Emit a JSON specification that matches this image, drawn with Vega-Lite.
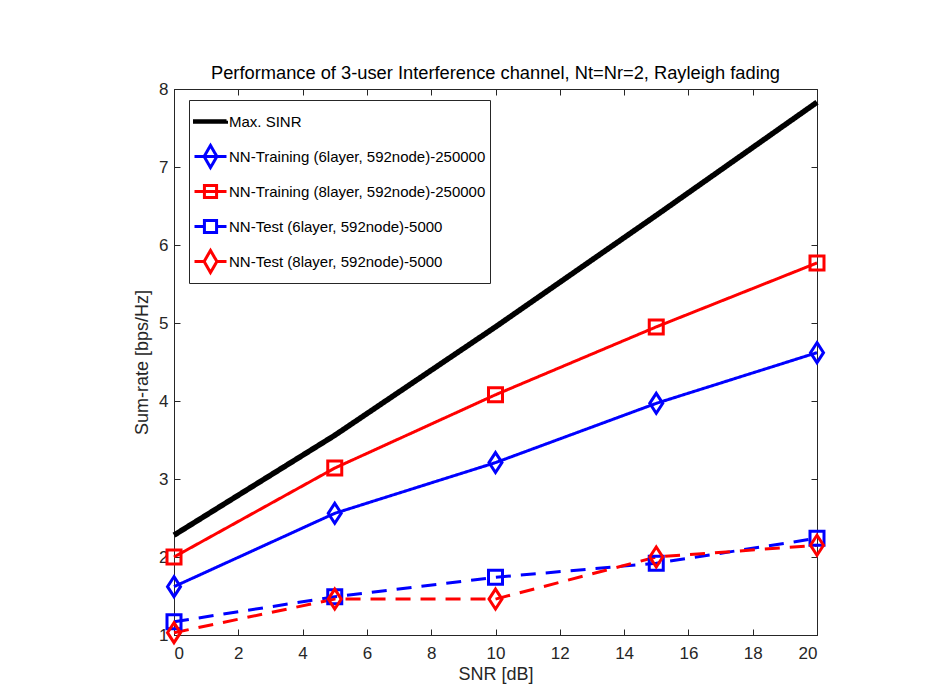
{
  "$schema": "https://vega.github.io/schema/vega-lite/v6.json",
  "width": 643,
  "height": 546,
  "autosize": "none",
  "padding": {"left": 174, "top": 89, "right": 127, "bottom": 64},
  "background": "white",
  "title": {
    "text": "Performance of 3-user Interference channel, Nt=Nr=2, Rayleigh fading",
    "font": "Liberation Sans",
    "fontSize": 18.3,
    "fontWeight": "normal",
    "color": "#000000",
    "anchor": "middle",
    "offset": -3
  },
  "config": {
    "view": {"stroke": "#262626", "strokeWidth": 1},
    "axis": {
      "grid": false,
      "domainColor": "#262626",
      "tickColor": "#262626",
      "labelColor": "#262626",
      "titleColor": "#262626",
      "labelFont": "Liberation Sans",
      "titleFont": "Liberation Sans",
      "labelFontSize": 17,
      "titleFontSize": 18,
      "titleFontWeight": "normal",
      "tickSize": -6
    }
  },
  "data": {
    "values": [
      {"series": "Max. SINR", "snr": 0, "rate": 2.28},
      {"series": "Max. SINR", "snr": 5, "rate": 3.56},
      {"series": "Max. SINR", "snr": 10, "rate": 4.95},
      {"series": "Max. SINR", "snr": 15, "rate": 6.38},
      {"series": "Max. SINR", "snr": 20, "rate": 7.83},
      {"series": "NN-Training (6layer, 592node)-250000", "snr": 0, "rate": 1.62},
      {"series": "NN-Training (6layer, 592node)-250000", "snr": 5, "rate": 2.56},
      {"series": "NN-Training (6layer, 592node)-250000", "snr": 10, "rate": 3.21},
      {"series": "NN-Training (6layer, 592node)-250000", "snr": 15, "rate": 3.97},
      {"series": "NN-Training (6layer, 592node)-250000", "snr": 20, "rate": 4.62},
      {"series": "NN-Training (8layer, 592node)-250000", "snr": 0, "rate": 2.0},
      {"series": "NN-Training (8layer, 592node)-250000", "snr": 5, "rate": 3.14},
      {"series": "NN-Training (8layer, 592node)-250000", "snr": 10, "rate": 4.08},
      {"series": "NN-Training (8layer, 592node)-250000", "snr": 15, "rate": 4.95},
      {"series": "NN-Training (8layer, 592node)-250000", "snr": 20, "rate": 5.77},
      {"series": "NN-Test (6layer, 592node)-5000", "snr": 0, "rate": 1.17},
      {"series": "NN-Test (6layer, 592node)-5000", "snr": 5, "rate": 1.49},
      {"series": "NN-Test (6layer, 592node)-5000", "snr": 10, "rate": 1.74},
      {"series": "NN-Test (6layer, 592node)-5000", "snr": 15, "rate": 1.92},
      {"series": "NN-Test (6layer, 592node)-5000", "snr": 20, "rate": 2.24},
      {"series": "NN-Test (8layer, 592node)-5000", "snr": 0, "rate": 1.03},
      {"series": "NN-Test (8layer, 592node)-5000", "snr": 5, "rate": 1.46},
      {"series": "NN-Test (8layer, 592node)-5000", "snr": 10, "rate": 1.46},
      {"series": "NN-Test (8layer, 592node)-5000", "snr": 15, "rate": 2.0},
      {"series": "NN-Test (8layer, 592node)-5000", "snr": 20, "rate": 2.15}
    ]
  },
  "resolve": {"axis": {"x": "independent", "y": "independent"}},
  "layer": [
    {
      "mark": {"type": "line", "strokeCap": "butt", "strokeJoin": "round"},
      "encoding": {
        "x": {
          "field": "snr", "type": "quantitative",
          "scale": {"domain": [0, 20], "nice": false, "zero": false},
          "axis": {"values": [0, 2, 4, 6, 8, 10, 12, 14, 16, 18, 20], "title": "SNR [dB]", "labelPadding": 16, "titlePadding": 4}
        },
        "y": {
          "field": "rate", "type": "quantitative",
          "scale": {"domain": [1, 8], "nice": false, "zero": false},
          "axis": {"values": [1, 2, 3, 4, 5, 6, 7, 8], "title": "Sum-rate [bps/Hz]", "labelPadding": 12, "titlePadding": 7}
        },
        "color": {
          "field": "series", "type": "nominal",
          "scale": {
            "domain": ["Max. SINR", "NN-Training (6layer, 592node)-250000", "NN-Training (8layer, 592node)-250000", "NN-Test (6layer, 592node)-5000", "NN-Test (8layer, 592node)-5000"],
            "range": ["#000000", "#0000ff", "#ff0000", "#0000ff", "#ff0000"]
          },
          "legend": {
            "title": null,
            "orient": "none",
            "legendX": 15,
            "legendY": 11,
            "strokeColor": "#262626",
            "fillColor": "white",
            "padding": 4,
            "labelFont": "Liberation Sans",
            "labelFontSize": 15,
            "labelColor": "#000000",
            "labelLimit": 400,
            "labelOffset": 1,
            "symbolSize": 1024,
            "symbolStrokeWidth": 3,
            "gridAlign": "all",
            "rowPadding": -0.5,
            "encode": {
              "symbols": {
                "update": {
                  "shape": {"signal": "datum.value === 'Max. SINR' ? 'M-1,-0.05H1V0.05H-1Z' : datum.value === 'NN-Training (6layer, 592node)-250000' ? 'M-1,0H1M0,-0.69L0.4,0L0,0.69L-0.4,0Z' : datum.value === 'NN-Training (8layer, 592node)-250000' ? 'M-1,0H1M-0.38,-0.38H0.38V0.38H-0.38Z' : datum.value === 'NN-Test (6layer, 592node)-5000' ? 'M-1,0H-0.38M0.38,0H1M-0.38,-0.38H0.38V0.38H-0.38Z' : 'M-1,0H-0.4M0.4,0H1M0,-0.69L0.4,0L0,0.69L-0.4,0Z'"},
                  "size": {"value": 1024},
                  "strokeWidth": {"value": 3},
                  "fill": {"signal": "datum.value === 'Max. SINR' ? '#000000' : 'transparent'"},
                  "opacity": {"value": 1},
                  "strokeDash": {"value": [1, 0]}
                }
              }
            }
          }
        },
        "strokeWidth": {"condition": {"test": "datum.series === 'Max. SINR'", "value": 5.5}, "value": 3},
        "strokeDash": {"condition": {"test": "indexof(datum.series, 'NN-Test') >= 0", "value": [15, 10]}, "value": [1, 0]}
      }
    },
    {
      "transform": [{"filter": "datum.series !== 'Max. SINR'"}],
      "mark": {"type": "point", "filled": false, "strokeWidth": 3, "opacity": 1},
      "encoding": {
        "x": {
          "field": "snr", "type": "quantitative",
          "scale": {"domain": [0, 20], "nice": false, "zero": false},
          "axis": {"orient": "top", "values": [0, 2, 4, 6, 8, 10, 12, 14, 16, 18, 20], "labels": false, "title": null, "domain": false}
        },
        "y": {
          "field": "rate", "type": "quantitative",
          "scale": {"domain": [1, 8], "nice": false, "zero": false},
          "axis": {"orient": "right", "values": [1, 2, 3, 4, 5, 6, 7, 8], "labels": false, "title": null, "domain": false}
        },
        "color": {"field": "series", "type": "nominal", "legend": null},
        "shape": {"condition": {"test": "datum.series === 'NN-Training (6layer, 592node)-250000' || datum.series === 'NN-Test (8layer, 592node)-5000'", "value": "M0,-1L0.65,0L0,1L-0.65,0Z"}, "value": "square"},
        "size": {"condition": {"test": "datum.series === 'NN-Training (6layer, 592node)-250000' || datum.series === 'NN-Test (8layer, 592node)-5000'", "value": 400}, "value": 196}
      }
    }
  ]
}
